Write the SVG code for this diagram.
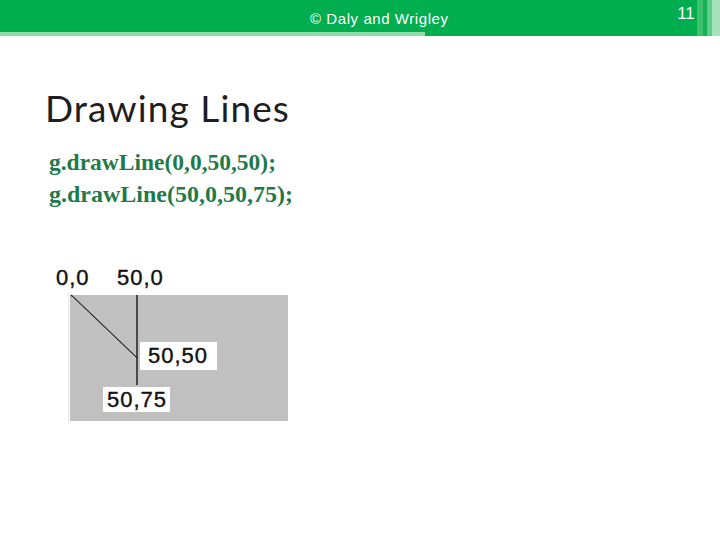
<svg xmlns="http://www.w3.org/2000/svg" width="720" height="540" viewBox="0 0 720 540">
<style>
.hdr{font-family:"Liberation Sans",sans-serif;fill:#ffffff;font-size:15px}
.title{font-family:"Lato","Open Sans",sans-serif;fill:#1e1e1e;font-size:37px;letter-spacing:1.1px}
.code{font-family:"Liberation Serif",serif;font-weight:bold;fill:#1f7a4a;font-size:23px}
.lbl{font-family:"Liberation Sans",Arial,sans-serif;fill:#111;stroke:#111;stroke-width:0.4px;font-size:22px;letter-spacing:1px}
.lbox{fill:#ffffff}
</style>
<rect width="720" height="540" fill="#ffffff"/>
<g id="header">
<rect x="0" y="0" width="720" height="36" fill="#00ad4f"/>
<rect x="0" y="32" width="425" height="4" fill="#8fdcaa"/>
<rect x="697" y="0" width="6" height="36" fill="#3cc16f"/>
<rect x="703" y="0" width="4" height="36" fill="#13b257"/>
<rect x="707" y="0" width="5" height="36" fill="#60cc88"/>
<rect x="712" y="0" width="8" height="36" fill="#a6e3bc"/>
<text class="hdr" x="310" y="24" textLength="138" lengthAdjust="spacing">© Daly and Wrigley</text>
<text class="hdr" x="686" y="19" text-anchor="middle" style="font-size:17px">11</text>
</g>
<g id="title"><text class="title" x="45" y="122">Drawing Lines</text></g>
<g id="code">
<text class="code" x="49" y="170" textLength="227" lengthAdjust="spacingAndGlyphs">g.drawLine(0,0,50,50);</text>
<text class="code" x="49" y="202" textLength="244" lengthAdjust="spacingAndGlyphs">g.drawLine(50,0,50,75);</text>
</g>
<g id="canvas">
<rect x="70" y="295" width="218" height="126" fill="#c0c0c0"/>
<line x1="68.5" y1="293" x2="68.5" y2="423" stroke="#e6e6e6" stroke-width="1"/>
</g>
<g id="connectors">
<line x1="71" y1="295" x2="137" y2="358" stroke="#222" stroke-width="1.3"/>
<line x1="72" y1="297" x2="138" y2="360" stroke="#e0e0e0" stroke-width="1" opacity="0.7"/>
<line x1="137" y1="295" x2="137" y2="385" stroke="#222" stroke-width="1.5"/>
</g>
<g id="label-00"><text class="lbl" x="56" y="285">0,0</text></g>
<g id="label-500"><text class="lbl" x="117" y="285">50,0</text></g>
<g id="label-5050">
<rect class="lbox" x="140" y="342" width="77" height="28"/>
<text class="lbl" x="148" y="363">50,50</text>
</g>
<g id="label-5075">
<rect class="lbox" x="103" y="387" width="67" height="25"/>
<text class="lbl" x="107" y="407">50,75</text>
</g>
</svg>
